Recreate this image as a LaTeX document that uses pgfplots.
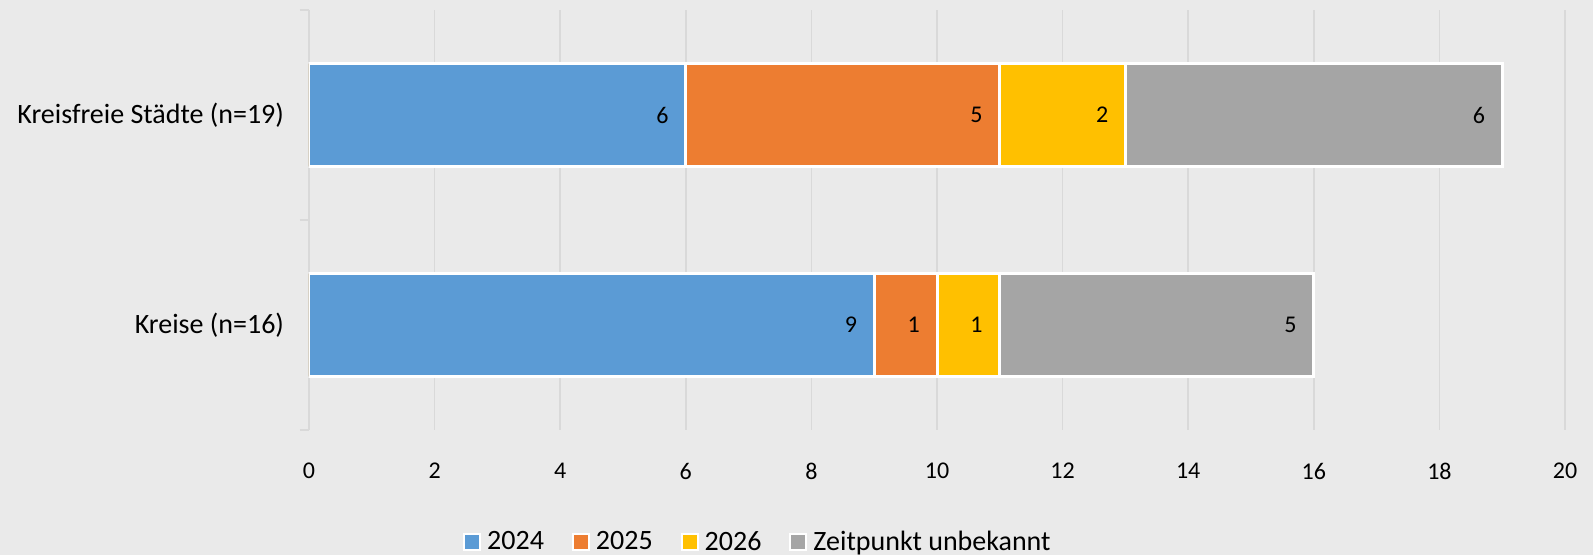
\documentclass[border=0pt]{standalone}
\usepackage{fontspec}
\setmainfont{Carlito}
\usepackage{pgfplots}
\pgfplotsset{compat=1.18}
\definecolor{bg}{HTML}{EAEAEA}
\definecolor{gridc}{HTML}{D9D9D9}
\definecolor{c2024}{HTML}{5B9BD5}
\definecolor{c2025}{HTML}{ED7D31}
\definecolor{c2026}{HTML}{FFC000}
\definecolor{cunk}{HTML}{A5A5A5}
\begin{document}
\begin{tikzpicture}
\fill[bg] (-154.5pt,-62.5pt) rectangle (642pt,215pt);
\begin{axis}[
  at={(0,0)}, anchor=south west,
  scale only axis, width=628pt, height=210pt,
  xbar, bar shift=0pt, bar width=0.49,
  xmin=0, xmax=20, ymin=-0.5, ymax=1.5,
  enlargelimits=false,
  axis x line*=bottom, axis y line*=left,
  x axis line style={draw=none},
  y axis line style={draw=gridc, line width=0.8pt},
  xtick={0,2,...,20},
  ytick={0,1},
  yticklabels={Kreise (n=16), Kreisfreie Städte (n=19)},
  minor ytick={-0.5,0.5,1.5},
  major tick length=0pt,
  minor tick length=4.5pt,
  tick align=outside,
  minor tick style={draw=gridc, line width=0.8pt},
  xmajorgrids, grid style={draw=gridc, line width=0.8pt},
  /pgf/number format/assume math mode=true,
  xticklabel style={font=\fontsize{12}{14}\selectfont, yshift=-13pt},
  yticklabel style={font=\fontsize{14}{16}\selectfont, xshift=-9pt},
  point meta=explicit,
  nodes near coords,
  nodes near coords style={font=\fontsize{12}{14}\selectfont, anchor=east, xshift=-4.5pt, text=black},
  legend columns=-1,
  legend style={at={(0.359,-0.267)}, anchor=center, draw=none, fill=none,
    font=\fontsize{14}{16}\selectfont,
    /tikz/every even column/.append style={column sep=11pt},
    nodes={inner xsep=3pt}},
  legend image code/.code={\draw[#1, draw=white, line width=1pt] (0pt,-4pt) rectangle (8pt,4pt);},
]
\addlegendimage{fill=c2024}
\addlegendimage{fill=c2025}
\addlegendimage{fill=c2026}
\addlegendimage{fill=cunk}
\legend{2024, 2025, 2026, Zeitpunkt unbekannt}
% cumulative bar ends (drawn back to front), labels = individual values
\addplot[forget plot, fill=cunk, draw=white, line width=1.5pt] coordinates {(16,0) [5] (19,1) [6]};
\addplot[forget plot, fill=c2026, draw=white, line width=1.5pt] coordinates {(11,0) [1] (13,1) [2]};
\addplot[forget plot, fill=c2025, draw=white, line width=1.5pt] coordinates {(10,0) [1] (11,1) [5]};
\addplot[forget plot, fill=c2024, draw=white, line width=1.5pt] coordinates {(9,0) [9] (6,1) [6]};
\end{axis}
\pgfresetboundingbox
\path (-154.5pt,-62.5pt) rectangle (642pt,215pt);
\end{tikzpicture}
\end{document}
